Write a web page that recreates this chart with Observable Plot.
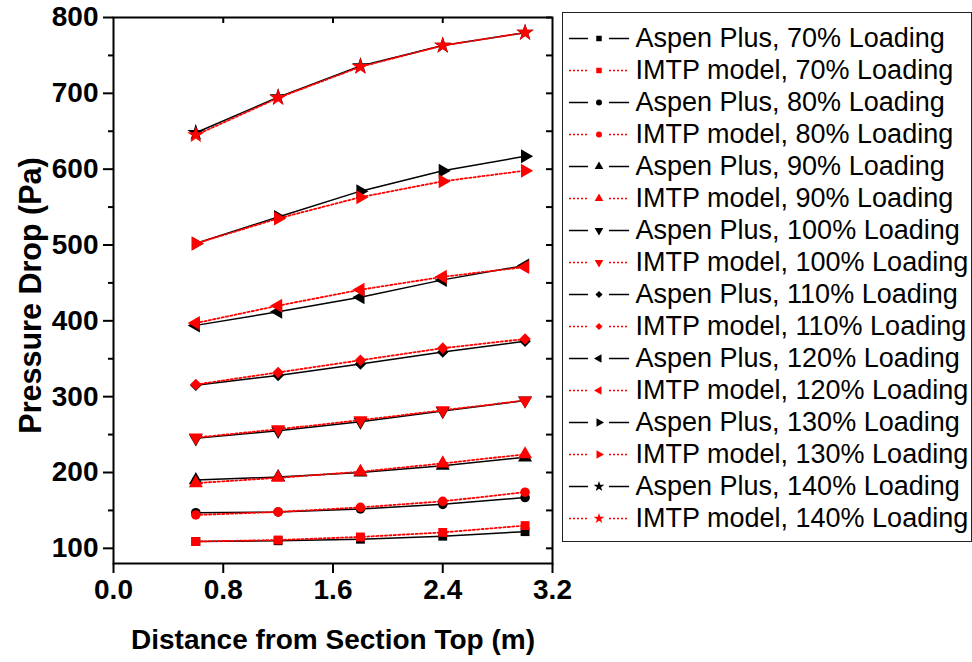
<!DOCTYPE html>
<html>
<head>
<meta charset="utf-8">
<script src="https://cdn.jsdelivr.net/npm/d3@7"></script>
<script src="https://cdn.jsdelivr.net/npm/@observablehq/plot@0.6"></script>
<style>
  html, body { margin: 0; padding: 0; background: #fff; }
  #wrap { position: relative; width: 972px; height: 662px; font-family: "Liberation Sans", Arial, sans-serif; }
  #legend { position: absolute; left: 562px; top: 12px; width: 408px; height: 528px; border: 1px solid #222; background: #fff; }
  #legend svg, #chart svg { display: block; }
</style>
</head>
<body>
<div id="wrap"><div id="chart"></div><div id="legend"></div></div>
<script>
// ---- data ----
const distance = [0.6, 1.2, 1.8, 2.4, 3.0];
const loadings = [70, 80, 90, 100, 110, 120, 130, 140];
const aspen70  = [109, 110, 112, 116, 122];
const imtp70   = [109, 111, 115, 121, 130];
const aspen80  = [147, 148, 152, 158, 167];
const imtp80   = [144, 148, 154, 162, 174];
const aspen90  = [190, 194, 200, 209, 220];
const imtp90   = [186, 193, 201, 212, 224];
const aspen100 = [245, 255, 267, 281, 295];
const imtp100  = [246, 257, 269, 282, 295];
const aspen110 = [315, 328, 343, 359, 373];
const imtp110  = [316, 332, 348, 364, 376];
const aspen120 = [394, 412, 431, 454, 473];
const imtp120  = [397, 420, 441, 458, 471];
const aspen130 = [502, 537, 571, 598, 617];
const imtp130  = [502, 535, 563, 584, 598];
const aspen140 = [648, 695, 736, 763, 780];
const imtp140  = [645, 694, 735, 763, 780];
const xTicks = [0, 0.8, 1.6, 2.4, 3.2];
const yTicks = [100, 200, 300, 400, 500, 600, 700, 800];
const yMinor = [150, 250, 350, 450, 550, 650, 750];
const xTitle = "Distance from Section Top (m)";
const yTitle = "Pressure Drop (Pa)";

const aspenSeries = [aspen70, aspen80, aspen90, aspen100, aspen110, aspen120, aspen130, aspen140];
const imtpSeries  = [imtp70, imtp80, imtp90, imtp100, imtp110, imtp120, imtp130, imtp140];

// ---- custom symbols ----
const sqrt3 = Math.sqrt(3);
function tri(dir) {
  return {
    draw(ctx, size) {
      const y = -Math.sqrt(size / (sqrt3 * 3));
      const pts = [[0, y * 2], [-sqrt3 * y, -y], [sqrt3 * y, -y]];
      const t = ([a, b]) => dir === "down" ? [a, -b] : dir === "left" ? [b, a] : dir === "right" ? [-b, a] : [a, b];
      const p = pts.map(t);
      ctx.moveTo(p[0][0], p[0][1]); ctx.lineTo(p[1][0], p[1][1]); ctx.lineTo(p[2][0], p[2][1]); ctx.closePath();
    }
  };
}
const symbols = ["square", "circle", "triangle", tri("down"), "diamond2", tri("left"), tri("right"), "star"];
const radii   = [5, 4.8, 5.2, 5.2, 5.2, 5.2, 5.2, 5.4];

// ---- build rows ----
function rows(seriesList, src) {
  const out = [];
  seriesList.forEach((vals, i) => vals.forEach((v, j) => out.push({src, loading: loadings[i], i, x: distance[j], y: v})));
  return out;
}
const aspenRows = rows(aspenSeries, "Aspen Plus");
const imtpRows = rows(imtpSeries, "IMTP model");

const W = 972, H = 662, mL = 113, mR = 420, mT = 17, mB = 99;
const fw = W - mL - mR, fh = H - mT - mB;
const font = "Liberation Sans, Arial, sans-serif";

const marks = [];
marks.push(Plot.line(aspenRows, {x: "x", y: "y", z: "loading", stroke: "#000", strokeWidth: 1.5}));
loadings.forEach((L, i) => marks.push(Plot.dot(aspenRows.filter(d => d.i === i), {x: "x", y: "y", symbol: symbols[i], r: radii[i], fill: "#000", stroke: "none"})));
marks.push(Plot.line(imtpRows, {x: "x", y: "y", z: "loading", stroke: "#ff0000", strokeWidth: 1.8, strokeDasharray: "2.2,2.2"}));
loadings.forEach((L, i) => marks.push(Plot.dot(imtpRows.filter(d => d.i === i), {x: "x", y: "y", symbol: symbols[i], r: radii[i], fill: "#ff0000", stroke: "none"})));

// axes
marks.push(Plot.axisX(xTicks, {tickSize: 10, tickPadding: 6, tickFormat: d3.format(".1f"), fontSize: 28, fontWeight: "bold", label: null, strokeWidth: 2, fill: "#000"}));
marks.push(Plot.axisY(yTicks, {tickSize: 10, tickPadding: 5, fontSize: 28, fontWeight: "bold", label: null, strokeWidth: 2, fill: "#000"}));
marks.push(Plot.axisY(yMinor, {tickSize: 5, text: null, label: null, strokeWidth: 2}));
marks.push(Plot.tickX(xTicks.slice(1, -1), {x: d => d, insetBottom: fh - 6, strokeWidth: 2, stroke: "#000"}));
marks.push(Plot.tickY(yTicks.concat(yMinor), {y: d => d, insetLeft: fw - 6, strokeWidth: 2, stroke: "#000"}));
marks.push(Plot.frame({stroke: "#000", strokeWidth: 2}));
// titles
marks.push(Plot.text([xTitle], {text: d => d, frameAnchor: "bottom", dy: 77, fontSize: 28, fontWeight: "bold", fill: "#000", lineAnchor: "middle", textAnchor: "middle"}));
marks.push(Plot.text([yTitle], {text: d => d, frameAnchor: "left", dx: -82, dy: 5, rotate: -90, fontSize: 30.5, fontWeight: "bold", fill: "#000", lineAnchor: "middle", textAnchor: "middle"}));

const chart = Plot.plot({
  width: W, height: H,
  marginLeft: mL, marginRight: mR, marginTop: mT, marginBottom: mB,
  style: {fontFamily: font, background: "#fff", overflow: "visible"},
  x: {domain: [0, 3.2]},
  y: {domain: [80, 800]},
  marks
});
document.getElementById("chart").appendChild(chart);

// ---- legend ----
const legendRows = [];
loadings.forEach((L, i) => {
  legendRows.push({label: `Aspen Plus, ${L}% Loading`, i, kind: "aspen"});
  legendRows.push({label: `IMTP model, ${L}% Loading`, i, kind: "imtp"});
});
const labels = legendRows.map(d => d.label);
const lm = [];
const segs = [];
legendRows.forEach(d => { segs.push({...d, x1: 6, x2: 25}); segs.push({...d, x1: 46, x2: 66}); });
lm.push(Plot.ruleY(segs.filter(d => d.kind === "aspen"), {y: "label", x1: "x1", x2: "x2", stroke: "#000", strokeWidth: 1.5}));
lm.push(Plot.ruleY(segs.filter(d => d.kind === "imtp"), {y: "label", x1: "x1", x2: "x2", stroke: "#ff0000", strokeWidth: 1.5, strokeDasharray: "2,2"}));
loadings.forEach((L, i) => {
  lm.push(Plot.dot(legendRows.filter(d => d.i === i), {x: () => 35.5, y: "label", symbol: symbols[i], r: radii[i] * 0.62, fill: d => d.kind === "aspen" ? "#000" : "#ff0000", stroke: "none"}));
});
lm.push(Plot.text(legendRows, {x: () => 72, y: "label", text: "label", textAnchor: "start", fontSize: 27, fill: "#000", lineAnchor: "middle"}));

const legend = Plot.plot({
  width: 408, height: 528,
  margin: 0,
  style: {fontFamily: font, background: "#fff", overflow: "visible"},
  x: {domain: [0, 408], range: [0, 408], axis: null},
  y: {type: "point", domain: labels, range: [18, 18 + 15 * 32.9], padding: 0, axis: null},
  fill: {type: "identity"},
  marks: lm
});
document.getElementById("legend").appendChild(legend);
</script>
</body>
</html>
